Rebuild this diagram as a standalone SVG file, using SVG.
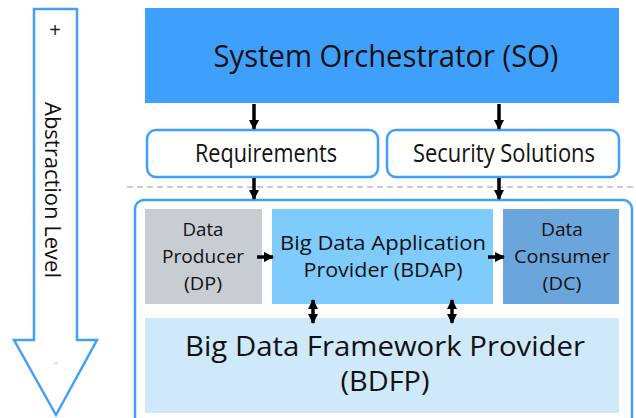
<svg xmlns="http://www.w3.org/2000/svg" width="636" height="418" viewBox="0 0 636 418">
<style>
text{font-family:"Open Sans","Noto Sans","Liberation Sans",sans-serif;fill:#111;text-anchor:middle}
.pill{fill:#fff;stroke:#3fa0fb;stroke-width:2.5}
.ar{stroke:#000;stroke-width:3.5;fill:none}
</style>
<defs>
<marker id="ah" viewBox="0 0 10 10" refX="9" refY="5" markerWidth="3" markerHeight="3" orient="auto-start-reverse"><path d="M0,0 L10,5 L0,10 z" fill="#000"/></marker>
</defs>
<g id="abstraction">
<path d="M34,9 H77 V340 H97 L56,415 L14,340 H34 Z" fill="#fff" stroke="#45a0f5" stroke-width="2.5"/>
<text x="55" y="37" font-size="20" style="font-family:'Liberation Sans',sans-serif;fill:#222">+</text>
<text x="56" y="366" font-size="11" style="fill:#aaa">-</text>
<text transform="translate(45,190) rotate(90)" font-size="22" textLength="176" lengthAdjust="spacingAndGlyphs">Abstraction Level</text>
</g>
<line x1="127" y1="187" x2="636" y2="187" stroke="#999" stroke-width="1.2" stroke-dasharray="6,4"/>
<g id="SO"><rect x="145" y="8" width="474" height="95" fill="#3fa0fb"/>
<text x="386" y="67" font-size="31" textLength="345" lengthAdjust="spacingAndGlyphs">System Orchestrator (SO)</text></g>
<g id="requirements"><rect class="pill" x="147" y="130" width="231" height="47" rx="9"/>
<text x="266" y="162" font-size="25" textLength="142" lengthAdjust="spacingAndGlyphs">Requirements</text></g>
<g id="security"><rect class="pill" x="387" y="130" width="232" height="47" rx="9"/>
<text x="504" y="162" font-size="25" textLength="182" lengthAdjust="spacingAndGlyphs">Security Solutions</text></g>
<g id="container"><rect x="135" y="200" width="497" height="230" rx="9" fill="#fff" stroke="#3fa0fb" stroke-width="2.5"/></g>
<g id="DP"><rect x="145" y="209" width="117" height="95" fill="#c8cdd4"/>
<text font-size="19"><tspan x="203" y="236" textLength="41" lengthAdjust="spacingAndGlyphs">Data</tspan><tspan x="203" y="263" textLength="82" lengthAdjust="spacingAndGlyphs">Producer</tspan><tspan x="203" y="290" textLength="38" lengthAdjust="spacingAndGlyphs">(DP)</tspan></text></g>
<g id="BDAP"><rect x="272" y="209" width="221" height="95" fill="#7fcbfc"/>
<text font-size="20"><tspan x="383" y="250" textLength="206" lengthAdjust="spacingAndGlyphs">Big Data Application</tspan><tspan x="383" y="277" textLength="159" lengthAdjust="spacingAndGlyphs">Provider (BDAP)</tspan></text></g>
<g id="DC"><rect x="503" y="209" width="116" height="95" fill="#6aa6dc"/>
<text font-size="19"><tspan x="562" y="236" textLength="42" lengthAdjust="spacingAndGlyphs">Data</tspan><tspan x="562" y="263" textLength="96" lengthAdjust="spacingAndGlyphs">Consumer</tspan><tspan x="562" y="290" textLength="39" lengthAdjust="spacingAndGlyphs">(DC)</tspan></text></g>
<g id="BDFP"><rect x="145" y="318" width="474" height="95" fill="#cfe9fb"/>
<text font-size="28"><tspan x="385" y="356" textLength="400" lengthAdjust="spacingAndGlyphs">Big Data Framework Provider</tspan><tspan x="385" y="391" textLength="89" lengthAdjust="spacingAndGlyphs">(BDFP)</tspan></text></g>
<g id="connectors">
<line class="ar" x1="254" y1="104" x2="254" y2="129" marker-end="url(#ah)"/>
<line class="ar" x1="499" y1="104" x2="499" y2="129" marker-end="url(#ah)"/>
<line class="ar" x1="254" y1="178" x2="254" y2="199" marker-end="url(#ah)"/>
<line class="ar" x1="499" y1="178" x2="499" y2="199" marker-end="url(#ah)"/>
<line class="ar" x1="257" y1="257" x2="273" y2="257" marker-end="url(#ah)"/>
<line class="ar" x1="488" y1="257" x2="504" y2="257" marker-end="url(#ah)"/>
<line class="ar" x1="313" y1="300" x2="313" y2="323" marker-start="url(#ah)" marker-end="url(#ah)"/>
<line class="ar" x1="452" y1="300" x2="452" y2="323" marker-start="url(#ah)" marker-end="url(#ah)"/>
</g>
</svg>
